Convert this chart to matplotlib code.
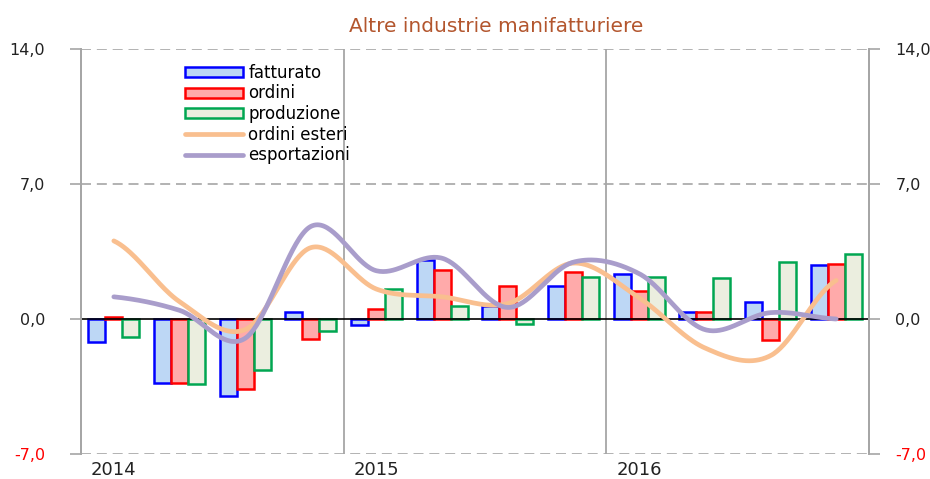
import numpy as np
import matplotlib
matplotlib.use("Agg")
import matplotlib.pyplot as plt

# dati trimestrali 2014-2016
anni = ["2014", "2015", "2016"]
fatturato = [-1.2, -3.3, -4.0, 0.35, -0.3, 3.05, 0.65, 1.7, 2.35, 0.38, 0.9, 2.8]
ordini = [0.1, -3.3, -3.65, -1.05, 0.5, 2.55, 1.7, 2.45, 1.45, 0.35, -1.1, 2.85]
produzione = [-0.95, -3.35, -2.65, -0.6, 1.55, 0.7, -0.25, 2.2, 2.2, 2.15, 2.95, 3.35]
ordini_esteri = [4.05, 0.9, -0.55, 3.7, 1.55, 1.15, 0.8, 2.9, 1.1, -1.5, -1.9, 2.0]
esportazioni = [1.15, 0.45, -1.0, 4.8, 2.5, 3.15, 0.6, 2.95, 2.35, -0.55, 0.33, 0.0]
yticks = [-7, 0, 7, 14]
ytick_labels = ["-7,0", "0,0", "7,0", "14,0"]

GRIGIO = "#A6A6A6"


def smooth(vals, n=40):
    # curva tipo Catmull-Rom, come le linee smussate di Excel
    p = np.r_[vals[0], vals, vals[-1]]
    xs, ys = [], []
    t = np.linspace(0, 1, n, endpoint=False)
    for i in range(len(vals) - 1):
        p0, p1, p2, p3 = p[i], p[i + 1], p[i + 2], p[i + 3]
        y = 0.5 * (2 * p1 + (-p0 + p2) * t + (2 * p0 - 5 * p1 + 4 * p2 - p3) * t ** 2
                   + (-p0 + 3 * p1 - 3 * p2 + p3) * t ** 3)
        xs.append(i + t)
        ys.append(y)
    xs.append([len(vals) - 1])
    ys.append([vals[-1]])
    return np.concatenate(xs), np.concatenate(ys)


def style_yaxis(a, pad):
    a.set_ylim(-7, 14)
    a.set_yticks(yticks)
    a.set_yticklabels(ytick_labels)
    a.tick_params(axis="y", length=8, width=1.2, color=GRIGIO, labelsize=11.5,
                  labelcolor="#222222", pad=pad)
    for lab in a.get_yticklabels():
        if lab.get_text().startswith("-"):
            lab.set_color("red")


fig = plt.figure(figsize=(9.3, 4.79), dpi=100)
ax = fig.add_axes([81 / 930, 25 / 479, 788 / 930, 405 / 479])

x = np.arange(len(fatturato))
w = 0.26
b1 = ax.bar(x - w, fatturato, w, color="#BDD7F5", edgecolor="#0000FF", linewidth=1.8, label="fatturato", zorder=2)
b2 = ax.bar(x, ordini, w, color="#FFAAAA", edgecolor="#FF0000", linewidth=1.8, label="ordini", zorder=2)
b3 = ax.bar(x + w, produzione, w, color="#EBEEDF", edgecolor="#00A651", linewidth=1.8, label="produzione", zorder=2)

xs, ys = smooth(ordini_esteri)
l1, = ax.plot(xs, ys, color="#F9BF8F", lw=3.4, label="ordini esteri", zorder=3, solid_capstyle="round")
xs, ys = smooth(esportazioni)
l2, = ax.plot(xs, ys, color="#A99DCB", lw=3.4, label="esportazioni", zorder=4, solid_capstyle="round")

# griglia
for v in [7, 14, -7]:
    ax.axhline(v, color=GRIGIO, lw=1.2, ls=(0, (6, 3.5)), zorder=1)
ax.axhline(0, color="black", lw=1.2, zorder=2.5)
for xv in [3.5, 7.5]:
    ax.axvline(xv, color=GRIGIO, lw=1.3, zorder=1)

ax.set_xlim(-0.5, 11.5)
style_yaxis(ax, 18)

ax2 = ax.twinx()
style_yaxis(ax2, 11)

for a in (ax, ax2):
    for s in ["top", "bottom"]:
        a.spines[s].set_visible(False)
    for s in ["left", "right"]:
        a.spines[s].set_color(GRIGIO)
        a.spines[s].set_linewidth(1.3)

ax.set_xticks([0, 4, 8])
ax.set_xticklabels(anni)
ax.tick_params(axis="x", length=0, labelsize=13, labelcolor="#222222", pad=5)

fig.text(496 / 930, 1 - 31.7 / 479, "Altre industrie manifatturiere", ha="center", va="baseline",
         fontsize=14.5, color="#B3562E")

ax2.legend([b1, b2, b3, l1, l2], ["fatturato", "ordini", "produzione", "ordini esteri", "esportazioni"],
           loc="upper left", bbox_to_anchor=(185 / 930, 1 - 64 / 479), bbox_transform=fig.transFigure,
           frameon=False, fontsize=12, handlelength=3.5, handleheight=0.55, handletextpad=0.3,
           labelspacing=0.15, borderpad=0, borderaxespad=0)

fig.savefig("out.png", dpi=100)
